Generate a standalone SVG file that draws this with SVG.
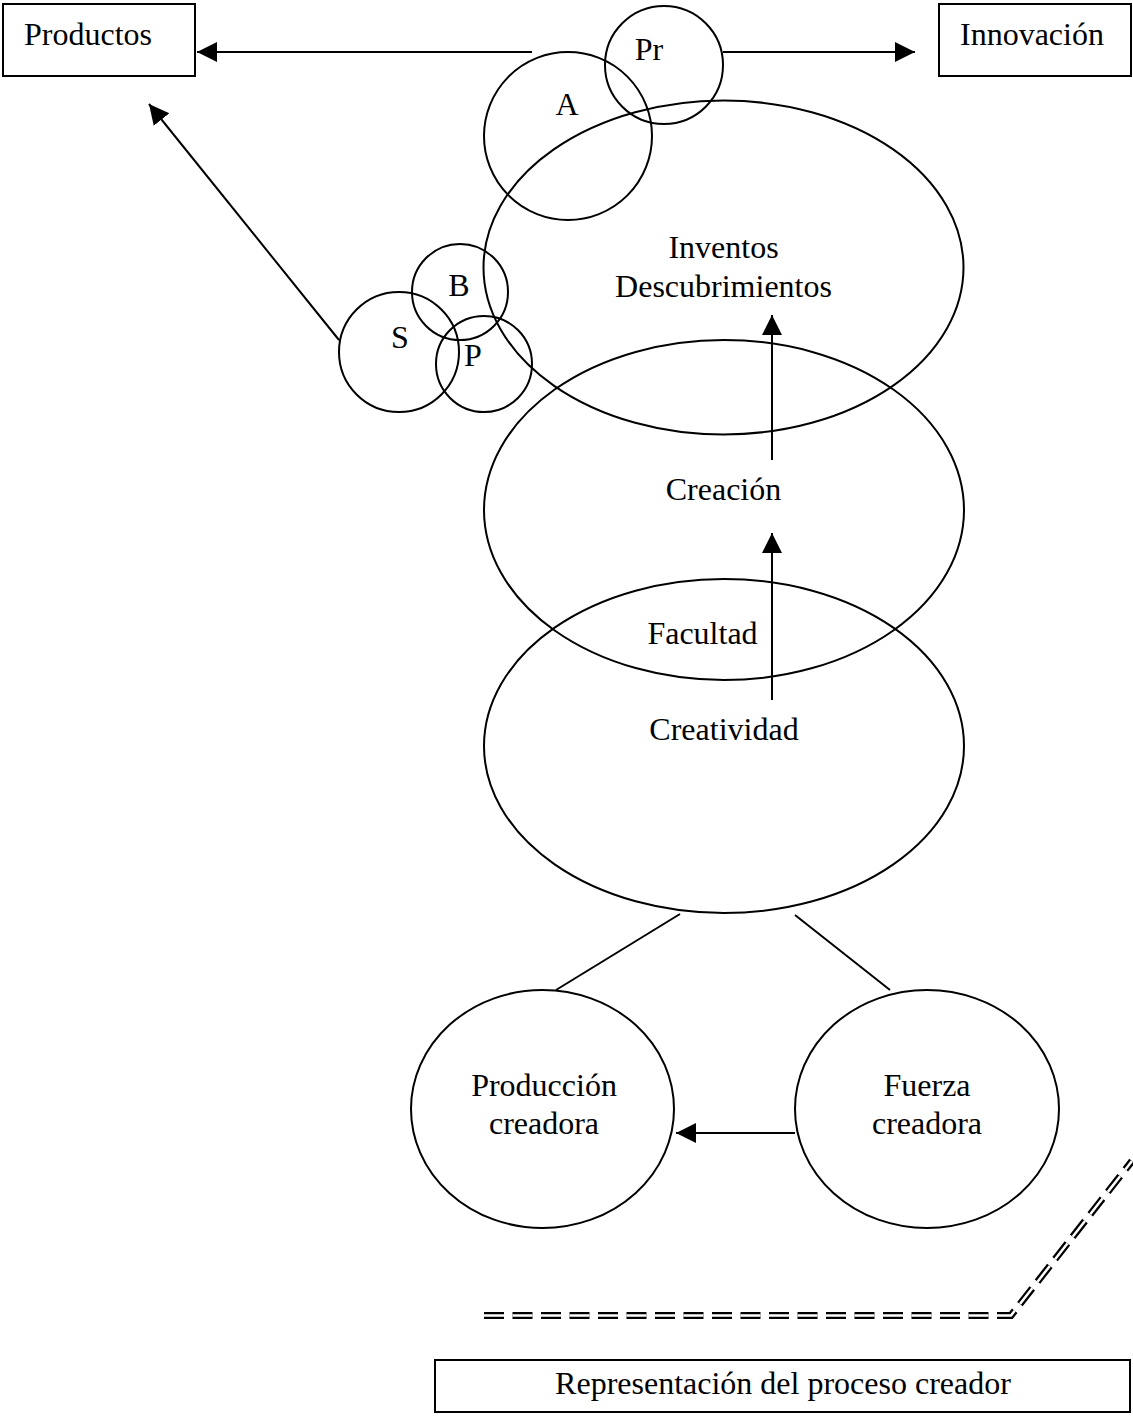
<svg xmlns="http://www.w3.org/2000/svg" width="1133" height="1421" viewBox="0 0 1133 1421">
<style>
.s{fill:none;stroke:#000;stroke-width:2}
.t{font-family:"Liberation Serif","Times New Roman",serif;font-size:32px;fill:#000}
.m{text-anchor:middle}
</style>
<defs>
<marker id="ah" markerUnits="userSpaceOnUse" markerWidth="22" markerHeight="22" refX="20" refY="10" orient="auto">
<path d="M0,0 L20,10 L0,20 z" fill="#000"/>
</marker>
</defs>
<rect width="1133" height="1421" fill="#fff"/>
<g id="productos"><rect class="s" x="3" y="4" width="192" height="72"/><text class="t" x="24" y="45">Productos</text></g>
<g id="innovacion"><rect class="s" x="939" y="4" width="192" height="72"/><text class="t" x="960" y="45">Innovación</text></g>
<g id="pr"><circle class="s" cx="664" cy="65" r="59"/><text class="t m" x="649" y="60">Pr</text></g>
<g id="a"><circle class="s" cx="568" cy="136" r="84"/><text class="t m" x="567" y="115">A</text></g>
<g id="inventos"><ellipse class="s" cx="723.5" cy="267.5" rx="240" ry="167"/><text class="t m" x="723.5" y="258">Inventos</text><text class="t m" x="723.5" y="297">Descubrimientos</text></g>
<g id="creacion"><ellipse class="s" cx="724" cy="510" rx="240" ry="170"/><text class="t m" x="723.5" y="500">Creación</text></g>
<g id="creatividad"><ellipse class="s" cx="724" cy="746" rx="240" ry="167"/><text class="t m" x="702.5" y="644">Facultad</text><text class="t m" x="724" y="740">Creatividad</text></g>
<g id="b"><circle class="s" cx="460" cy="292" r="48"/><text class="t m" x="459" y="296">B</text></g>
<g id="s"><circle class="s" cx="399" cy="352" r="60"/><text class="t m" x="400" y="348">S</text></g>
<g id="p"><circle class="s" cx="484" cy="364" r="48"/><text class="t m" x="473" y="366">P</text></g>
<g id="produccion"><ellipse class="s" cx="542.5" cy="1109" rx="131.5" ry="119"/><text class="t m" x="544" y="1096">Producción</text><text class="t m" x="544" y="1134">creadora</text></g>
<g id="fuerza"><ellipse class="s" cx="927" cy="1109" rx="132" ry="119"/><text class="t m" x="927" y="1096">Fuerza</text><text class="t m" x="927" y="1134">creadora</text></g>
<g id="caption"><rect class="s" x="435" y="1360" width="695" height="52"/><text class="t m" x="783" y="1394">Representación del proceso creador</text></g>
<g id="connectors">
<line class="s" x1="532" y1="52" x2="197" y2="52" marker-end="url(#ah)"/>
<line class="s" x1="723" y1="52" x2="915" y2="52" marker-end="url(#ah)"/>
<line class="s" x1="339" y1="340" x2="149" y2="104" marker-end="url(#ah)"/>
<line class="s" x1="772" y1="460" x2="772" y2="315" marker-end="url(#ah)"/>
<line class="s" x1="772" y1="700" x2="772" y2="533" marker-end="url(#ah)"/>
<line class="s" x1="680" y1="914" x2="556" y2="990"/>
<line class="s" x1="795" y1="915" x2="890" y2="990"/>
<line class="s" x1="795" y1="1133" x2="676" y2="1133" marker-end="url(#ah)"/>
<polyline points="484,1315.5 1011,1315.5 1132,1161" fill="none" stroke="#000" stroke-width="7" stroke-dasharray="20 8.5"/>
<polyline points="484,1315.5 1011,1315.5 1132,1161" fill="none" stroke="#fff" stroke-width="2.5" stroke-dasharray="20 8.5"/>
</g>
</svg>
